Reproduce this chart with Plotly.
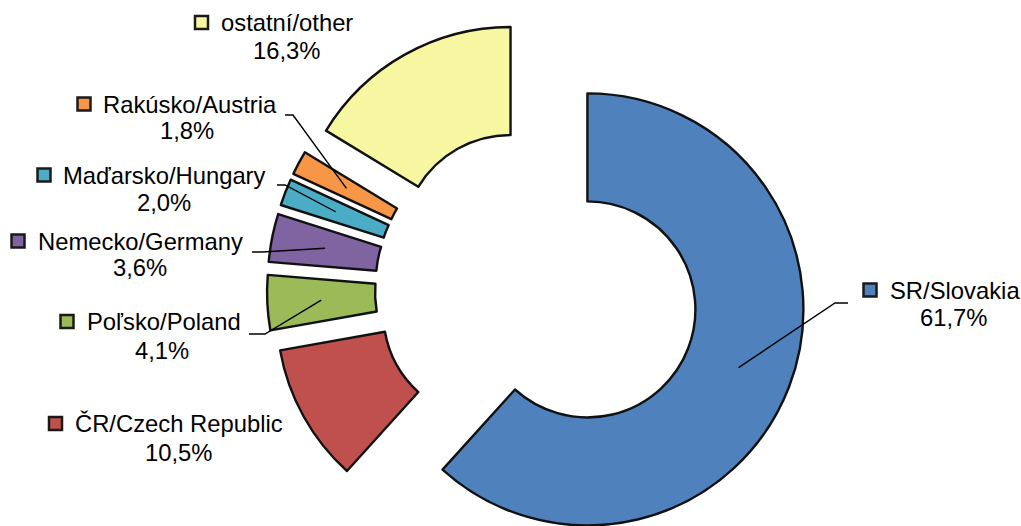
import math
import plotly.graph_objects as go

# ---------------- data ----------------
labels = ["SR/Slovakia", "ČR/Czech Republic", "Poľsko/Poland", "Nemecko/Germany",
          "Maďarsko/Hungary", "Rakúsko/Austria", "ostatní/other"]
shares = [61.7, 10.5, 4.1, 3.6, 2.0, 1.8, 16.3]
value_text = ["61,7%", "10,5%", "4,1%", "3,6%", "2,0%", "1,8%", "16,3%"]
colors = ["#4F81BD", "#C0504D", "#9BBB59", "#8064A2", "#4BACC6", "#F79646", "#F7F7A1"]

# ---------------- layout (pixels) ----------------
W, H = 1021, 526
CX, CY = 537, 290      # centre of the (un-exploded) donut
R = 216                # outer radius
PULL = 54              # explosion distance
HOLE = 0.5

name_left = [888, 73, 85, 36, 61, 101, 219]
name_y = [290, 423.5, 321.5, 241, 175, 104, 22.5]
value_cx = [953, 178, 162, 140, 164, 187, 286]
value_y = [317.5, 452.5, 350.5, 267, 202.5, 130.5, 50]
key_cx = [870, 55.5, 67, 18, 44, 84, 201.5]
leader_pts = [[(835, 303), (848, 303)], None, [(265, 334), (249, 334)],
              [(262, 252), (252, 252)], [(285, 185), (277, 185)],
              [(293, 115), (285, 115)], None]

FONT = dict(family="Liberation Sans, Arial, sans-serif", size=23.8, color="#000000")


def px(x):
    return x / W


def py(y):
    return 1 - y / H


total = sum(shares)
mids = []
acc = 0.0
for s in shares:
    mids.append((acc + s / 2) / total * 360.0)
    acc += s


def direction(deg):
    a = math.radians(deg)
    return math.sin(a), -math.cos(a)


fig = go.Figure()
n = len(shares)
for i in range(n):
    dx, dy = direction(mids[i])
    cx = CX + PULL * dx
    cy = CY + PULL * dy
    x0, x1 = max(0, px(cx - R)), min(1, px(cx + R))
    y0, y1 = max(0, py(cy + R)), min(1, py(cy - R))
    fill = [colors[j] if j == i else "rgba(0,0,0,0)" for j in range(n)]
    lw = [2.4 if j == i else 0 for j in range(n)]
    fig.add_trace(go.Pie(
        labels=labels, values=shares, sort=False, direction="clockwise",
        rotation=0, hole=HOLE, textinfo="none", showlegend=False,
        marker=dict(colors=fill, line=dict(color="#111111", width=lw)),
        domain=dict(x=[x0, x1], y=[y0, y1]),
        hovertemplate="%{label}: %{value}%<extra></extra>",
    ))

shapes = []
annotations = []
rm = R * (1 + HOLE) / 2
for i in range(n):
    # legend key square
    k = 6.5
    shapes.append(dict(type="rect", xref="paper", yref="paper",
                       x0=px(key_cx[i] - k), x1=px(key_cx[i] + k),
                       y0=py(name_y[i] + k), y1=py(name_y[i] - k),
                       fillcolor=colors[i], line=dict(color="#1a1a1a", width=2.5)))
    annotations.append(dict(text=labels[i], x=px(name_left[i]), y=py(name_y[i]),
                            xref="paper", yref="paper", xanchor="left", yanchor="middle",
                            showarrow=False, font=FONT))
    annotations.append(dict(text=value_text[i], x=px(value_cx[i]), y=py(value_y[i]),
                            xref="paper", yref="paper", xanchor="center", yanchor="middle",
                            showarrow=False, font=FONT))
    if leader_pts[i]:
        dx, dy = direction(mids[i])
        sx = CX + (PULL + rm) * dx
        sy = CY + (PULL + rm) * dy
        pts = [(sx, sy)] + leader_pts[i]
        path = "M " + " L ".join(f"{px(x):.5f},{py(y):.5f}" for x, y in pts)
        shapes.append(dict(type="path", xref="paper", yref="paper", path=path,
                           line=dict(color="#000000", width=1.4)))

fig.update_layout(
    width=W, height=H, autosize=False,
    margin=dict(l=0, r=0, t=0, b=0),
    paper_bgcolor="#FFFFFF", plot_bgcolor="#FFFFFF",
    shapes=shapes, annotations=annotations,
)

fig.write_html("out.html",
               config={"displayModeBar": False},
               post_script="document.body.style.margin='0';document.body.style.overflow='hidden';")
